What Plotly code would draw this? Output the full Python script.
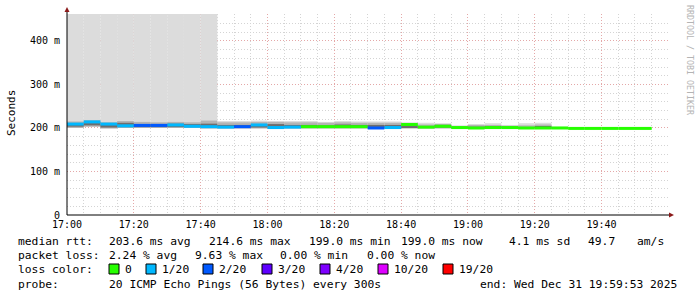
import plotly.graph_objects as go
import pandas as pd

# ---- data (ms) ----
bin_start = pd.date_range("2025-12-31 17:00", periods=35, freq="5min")
median_ms = [209, 214, 209, 205, 206, 206, 207, 204, 203, 202, 203, 207, 201, 202, 203, 203, 203, 203,
             200, 201, 208, 202, 204, 201, 200, 201, 201, 200, 200, 200, 199, 199, 199, 199, 199]
loss_idx = [1, 1, 1, 1, 2, 2, 1, 1, 1, 1, 2, 1, 1, 1, 0, 0, 0, 0,
            2, 1, 0, 0, 0, 0, 0, 0, 0, 0, 0, 0, 0, 0, 0, 0, 0]
smoke_min = [200, 203, 199, 200, 200, 200, 200, 200, 199, 199, 199, 199, 199, 199, 199, 199, 199, 199,
             198, 199, 199, 199, 199, 199, 198, 199, 199, 199, 199, 199, 199, 199, 199, 199, 199]
smoke_q1 = [203, 206, 201, 202, 202, 202, 202, 202, 201, 201, 201, 201, 201, 201, 200, 200, 201, 201,
            201, 201, 201, 200, 201, 200, 199, 200, 200, 200, 200, 199, 199, 199, 199, 199, 199]
smoke_q3 = [210, 214, 208, 212, 209, 209, 210, 209, 210, 207, 207, 209, 209, 207, 207, 206, 208, 207,
            207, 207, 205, 204, 207, 202, 203, 203, 202, 202, 203, 200, 199, 199, 199, 199, 199]
smoke_p90 = [215, 218, 213, 216, 214, 213, 214, 213, 217, 213, 213, 214, 214, 213, 213, 212, 213, 212,
             212, 212, 210, 208, 209, 204, 207, 207, 205, 206, 208, 202, 199, 199, 199, 199, 199]
smoke_max = [500, 500, 500, 500, 500, 500, 500, 500, 500, 216, 216, 217, 216, 216, 216, 214, 216, 215,
             215, 215, 213, 212, 211, 206, 209, 211, 207, 211, 212, 203, 199, 199, 199, 199, 199]

loss_labels = ["0", "1/20", "2/20", "3/20", "4/20", "10/20", "19/20"]
loss_colors = ["#26ff00", "#00b8ff", "#0059ff", "#5e00ff", "#7e00ff", "#dd00ff", "#ff0000"]

stat_rtt = ["203.6 ms avg", "214.6 ms max", "199.0 ms min", "199.0 ms now", "4.1 ms sd", "49.7", "am/s"]
stat_loss = ["2.24 % avg", "9.63 % max", "0.00 % min", "0.00 % now"]
probe_text = "20 ICMP Echo Pings (56 Bytes) every 300s"
end_text = "end: Wed Dec 31 19:59:53 2025"

y_ticks = [0, 0.1, 0.2, 0.3, 0.4]
y_ticktext = ["0", "100 m", "200 m", "300 m", "400 m"]

# ---- figure ----
STEP = pd.Timedelta(minutes=5)
centers = bin_start + STEP / 2
W = 300000
s = lambda arr: [v / 1000 for v in arr]

fig = go.Figure()
for lo, hi, col in [(smoke_min, smoke_max, "#dcdcdc"), (smoke_min, smoke_p90, "#b4b4b4"),
                    (smoke_q1, smoke_q3, "#6e6e6e")]:
    fig.add_trace(go.Bar(x=centers, y=[a - b for a, b in zip(s(hi), s(lo))], base=s(lo),
                         width=W, marker=dict(color=col, line=dict(width=0)), hoverinfo="skip"))

for ci, col in enumerate(loss_colors):
    xs, ys = [], []
    for i in range(len(bin_start)):
        if loss_idx[i] == ci:
            xs += [bin_start[i], bin_start[i] + STEP, None]
            ys += [median_ms[i] / 1000, median_ms[i] / 1000, None]
    if xs:
        fig.add_trace(go.Scatter(x=xs, y=ys, mode="lines", line=dict(color=col, width=3), hoverinfo="skip"))

L, R, T, B = 67, 29, 14, 82
PW, PH = 697 - L - R, 297 - T - B
px = lambda x: (x - L) / PW
py = lambda y: (297 - B - y) / PH

mono = "DejaVu Sans Mono"
ann = []
def txt(x, y, t, size=11.3, color="black", **kw):
    ann.append(dict(x=px(x), y=py(y), xref="paper", yref="paper", text=t, showarrow=False,
                    xanchor="left", yanchor="middle", font=dict(family=mono, size=size, color=color), **kw))

txt(16, 241, "median rtt:")
for x, t in zip([107, 207, 307, 399, 507, 586, 635], stat_rtt):
    txt(x, 241, t)
txt(16, 255, "packet loss:")
for x, t in zip([107, 193, 278, 365], stat_loss):
    txt(x, 255, t)
txt(16, 269, "loss color:")
shapes = []
for bx, lab, col in zip([109, 146, 203, 262, 320, 378, 443], loss_labels, loss_colors):
    shapes.append(dict(type="rect", xref="paper", yref="paper", x0=px(bx), x1=px(bx + 10),
                       y0=py(274), y1=py(264), fillcolor=col, line=dict(color="black", width=1)))
    txt(bx + 14, 269, lab)
txt(16, 284, "probe:")
txt(107, 284, probe_text)
txt(478, 284, end_text)

ann.append(dict(x=px(11), y=py(113), xref="paper", yref="paper", text="Seconds", showarrow=False,
                textangle=-90, xanchor="center", yanchor="middle",
                font=dict(family=mono, size=11, color="black")))
ann.append(dict(x=px(690), y=py(60), xref="paper", yref="paper", text="RRDTOOL / TOBI OETIKER", showarrow=False,
                textangle=90, xanchor="center", yanchor="middle",
                font=dict(family=mono, size=8.3, color="#b4b4b4")))

# axis lines and arrows
shapes.append(dict(type="line", xref="paper", yref="paper", x0=px(67), x1=px(67), y0=py(215), y1=py(10),
                   line=dict(color="black", width=1)))
shapes.append(dict(type="line", xref="paper", yref="paper", x0=px(67), x1=px(670), y0=py(215), y1=py(215),
                   line=dict(color="black", width=1)))
shapes.append(dict(type="path", xref="paper", yref="paper",
                   path=f"M {px(64.5)} {py(12)} L {px(69.5)} {py(12)} L {px(67)} {py(7)} Z",
                   fillcolor="#8b1a1a", line=dict(color="#8b1a1a", width=0)))
shapes.append(dict(type="path", xref="paper", yref="paper",
                   path=f"M {px(669)} {py(212.5)} L {px(669)} {py(217.5)} L {px(674)} {py(215)} Z",
                   fillcolor="#8b1a1a", line=dict(color="#8b1a1a", width=0)))

fig.update_layout(
    width=697, height=297, margin=dict(l=L, r=R, t=T, b=B),
    paper_bgcolor="white", plot_bgcolor="white", showlegend=False, barmode="overlay",
    annotations=ann, shapes=shapes,
    font=dict(family=mono, size=10, color="black"),
)
fig.update_xaxes(type="date", range=["2025-12-31 17:00:00", "2025-12-31 19:59:53"],
                 tick0="2025-12-31 17:00", dtick=1200000, tickformat="%H:%M",
                 showgrid=True, gridcolor="#e4a8a8", griddash="1px,2px", gridwidth=1,
                 minor=dict(dtick=300000, tick0="2025-12-31 17:00", showgrid=True, gridcolor="#d4d4d4",
                            griddash="1px,2px"),
                 ticks="", ticklabelstandoff=2, showline=False, zeroline=False,
                 tickfont=dict(family=mono, size=10, color="black"))
fig.update_yaxes(range=[0, 0.462], tickvals=y_ticks, ticktext=y_ticktext,
                 showgrid=True, gridcolor="#e4a8a8", griddash="1px,2px", gridwidth=1,
                 minor=dict(dtick=0.02, tick0=0, showgrid=True, gridcolor="#d4d4d4", griddash="1px,2px"),
                 ticks="", ticklabelstandoff=6, showline=False, zeroline=False,
                 tickfont=dict(family=mono, size=10, color="black"))

fig.write_html("out.html")
